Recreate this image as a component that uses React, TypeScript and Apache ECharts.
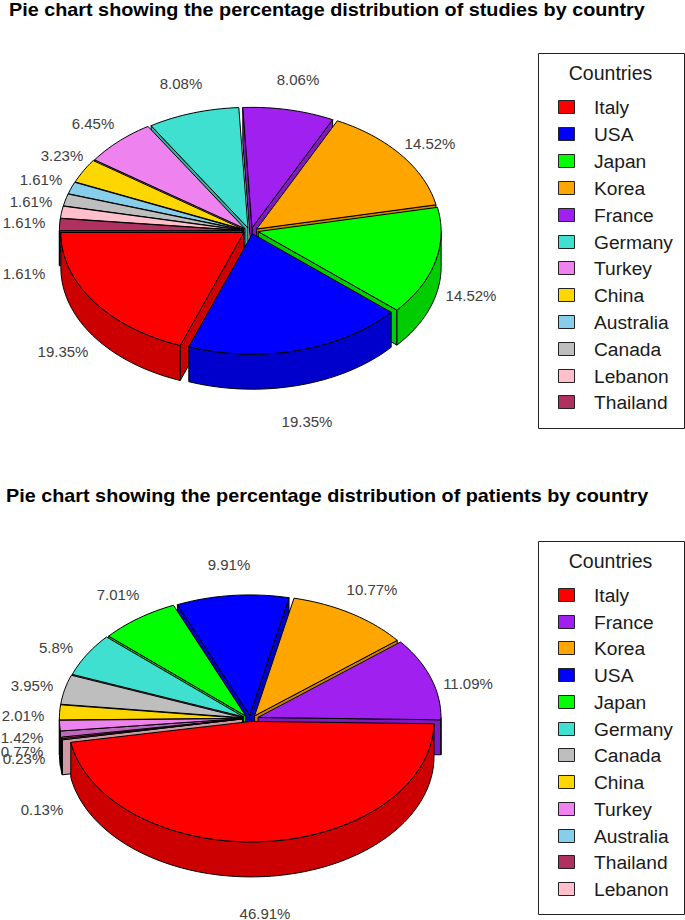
import React, { useEffect, useRef } from "react";
import * as echarts from "echarts";

const studyCountries = ["Italy", "USA", "Japan", "Korea", "France", "Germany", "Turkey", "China", "Australia", "Canada", "Lebanon", "Thailand"];
const studyValues = [19.35, 19.35, 14.52, 14.52, 8.06, 8.08, 6.45, 3.23, 1.61, 1.61, 1.61, 1.61];
const studyLabels = ["19.35%", "19.35%", "14.52%", "14.52%", "8.06%", "8.08%", "6.45%", "3.23%", "1.61%", "1.61%", "1.61%", "1.61%"];

const patientCountries = ["Italy", "France", "Korea", "USA", "Japan", "Germany", "Canada", "China", "Turkey", "Australia", "Thailand", "Lebanon"];
const patientValues = [46.91, 11.09, 10.77, 9.91, 7.01, 5.8, 3.95, 2.01, 1.42, 0.77, 0.23, 0.13];
const patientLabels = ["46.91%", "11.09%", "10.77%", "9.91%", "7.01%", "5.8%", "3.95%", "2.01%", "1.42%", "0.77%", "0.23%", "0.13%"];

const countryColors: Record<string, string> = {
  Italy: "#ff0000", USA: "#0000ff", Japan: "#00ff00", Korea: "#ffa500", France: "#a020f0", Germany: "#40e0d0",
  Turkey: "#ee82ee", China: "#ffd700", Australia: "#87ceeb", Canada: "#bebebe", Lebanon: "#ffc0cb", Thailand: "#b03060",
};

// layout
const studyLabelPos = [[63, 351], [307, 421], [471, 295], [430, 143], [298, 79], [181, 83], [93, 123], [62, 155], [41, 179], [31, 201], [24, 222], [24, 273]];
const patientLabelPos = [[265, 913], [468, 683], [372, 589], [229, 564], [118, 594], [56, 647], [32, 685], [23, 715], [22, 737], [22, 751], [24, 758], [42, 809]];
const GEO = { cx: 250.4, rx: 183, ry: 120.5, ex: 8, ey: 3, h: 35 };
const shade = (c: string) => {
  const n = parseInt(c.slice(1), 16);
  const f = (v: number) => Math.round(v * 0.8);
  return `rgb(${f((n >> 16) & 255)},${f((n >> 8) & 255)},${f(n & 255)})`;
};
const rad = (d: number) => (d * Math.PI) / 180;

function pieSeries(countries: string[], values: number[], startDeg: number, cy: number, paintBefore?: [string, string]) {
  const total = values.reduce((a, b) => a + b, 0);
  let acc = startDeg;
  const spans = values.map((v) => {
    const s = acc;
    acc += (v / total) * 360;
    return [s, acc];
  });
  const order = values.map((_, i) => i).sort((a, b) =>
    Math.sin(rad((spans[b][0] + spans[b][1]) / 2)) - Math.sin(rad((spans[a][0] + spans[a][1]) / 2)));
  if (paintBefore) {
    const from = order.indexOf(countries.indexOf(paintBefore[0]));
    const moved = order.splice(from, 1)[0];
    order.splice(order.indexOf(countries.indexOf(paintBefore[1])), 0, moved);
  }
  return {
    type: "custom",
    coordinateSystem: "none",
    silent: true,
    clip: false,
    data: order.map((i) => ({ name: countries[i], value: [i, values[i]] })),
    renderItem: (_p: any, api: any) => {
      const i = api.value(0);
      const [a0, a1] = spans[i];
      const bis = rad((a0 + a1) / 2);
      const ox = GEO.cx + Math.cos(bis) * GEO.ex;
      const oy = cy - Math.sin(bis) * GEO.ey;
      const pt = (a: number): number[] => [ox + Math.cos(rad(a)) * GEO.rx, oy - Math.sin(rad(a)) * GEO.ry];
      const angles: number[] = [];
      for (let a = a0; a < a1; a += 1.8) angles.push(a);
      for (let k = Math.ceil(a0 / 180); k * 180 < a1; k++) angles.push(k * 180);
      angles.push(a1);
      angles.sort((a, b) => a - b);
      const col = countryColors[countries[i]];
      const dark = shade(col);
      const poly = (points: number[][], fill: string) => ({
        type: "polygon",
        shape: { points },
        style: { fill, stroke: "#000", lineWidth: 1, lineJoin: "round" },
      });
      const down = (p: number[]) => [p[0], p[1] + GEO.h];
      const children: any[] = [];
      if (Math.cos(rad(a0)) > 0) {
        const p = pt(a0);
        children.push(poly([[ox, oy], p, down(p), [ox, oy + GEO.h]], dark));
      }
      if (Math.cos(rad(a1)) < 0) {
        const p = pt(a1);
        children.push(poly([[ox, oy], p, down(p), [ox, oy + GEO.h]], dark));
      }
      let run: number[][] = [];
      const flush = () => {
        if (run.length > 1) children.push(poly([...run, ...run.slice().reverse().map(down)], dark));
        run = [];
      };
      angles.forEach((a) => {
        if (Math.sin(rad(a)) <= 1e-9) run.push(pt(a));
        else flush();
      });
      flush();
      children.push(poly([[ox, oy], ...angles.map(pt)], col));
      return { type: "group", children };
    },
  };
}

const text = (x: number, y: number, t: string, size: number, fill: string, align = "center", weight = "normal", scaleX = 1) => ({
  type: "text",
  x,
  y,
  scaleX,
  silent: true,
  style: { text: t, fontFamily: "Liberation Sans", fontSize: size, fontWeight: weight, fill, textAlign: align, textVerticalAlign: "middle" },
});

function legend(countries: string[], boxTop: number, boxBottom: number, titleY: number, rows: number[]) {
  const out: any[] = [
    { type: "rect", shape: { x: 538.5, y: boxTop + 0.5, width: 146, height: boxBottom - boxTop }, style: { fill: "#fff", stroke: "#222", lineWidth: 1 } },
    text(610.5, titleY, "Countries", 19.5, "#1a1a1a"),
  ];
  countries.forEach((c, i) => {
    out.push({ type: "rect", shape: { x: 558.5, y: rows[i] - 6.5, width: 16, height: 13 }, style: { fill: countryColors[c], stroke: "#222", lineWidth: 1 } });
    out.push(text(594, rows[i], c, 19.2, "#1a1a1a", "left"));
  });
  return out;
}

const studyRows = [107, 134, 161, 188, 215, 242, 268, 295, 322, 349, 376, 402];
const patientRows = [595, 622, 648, 675, 702, 729, 755, 782, 809, 836, 862, 889];

export default function App() {
  const ref = useRef<HTMLDivElement>(null);
  useEffect(() => {
    const chart = echarts.init(ref.current!, undefined, { renderer: "svg" });
    chart.setOption({
      animation: false,
      backgroundColor: "#fff",
      series: [
        pieSeries(studyCountries, studyValues, 180, 230.8),
        pieSeries(patientCountries, patientValues, 190, 718.4, ["Australia", "Turkey"]),
      ],
      graphic: [
        text(9, 9.4, "Pie chart showing the percentage distribution of studies by country", 18.4, "#000", "left", "bold", 1.076),
        text(6, 495.5, "Pie chart showing the percentage distribution of patients by country", 18.4, "#000", "left", "bold", 1.076),
        ...studyLabels.map((t, i) => text(studyLabelPos[i][0], studyLabelPos[i][1], t, 15, "#404040")),
        ...patientLabels.map((t, i) => text(patientLabelPos[i][0], patientLabelPos[i][1], t, 15, "#404040")),
        ...legend(studyCountries, 53, 428, 73, studyRows),
        ...legend(patientCountries, 541, 914, 561, patientRows),
      ],
    });
    return () => chart.dispose();
  }, []);
  return <div ref={ref} style={{ position: "absolute", left: 0, top: 0, width: 685, height: 920 }} />;
}
